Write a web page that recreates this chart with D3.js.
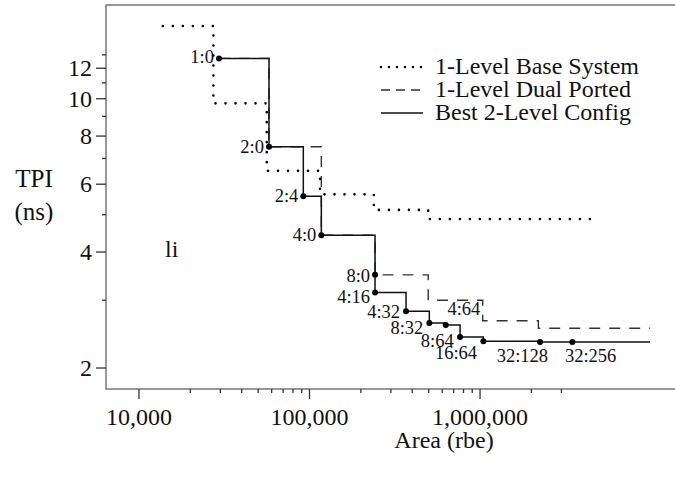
<!DOCTYPE html>
<html><head><meta charset="utf-8">
<script src="https://cdn.jsdelivr.net/npm/d3@7"></script>
<style>
html,body{margin:0;padding:0;background:#fff;}
text{font-family:"Liberation Serif","Times New Roman",serif;fill:#111;}
</style></head>
<body><svg id="c" width="675" height="484"></svg>
<script>
// ---- data ----
const seriesNames = ["1-Level Base System", "1-Level Dual Ported", "Best 2-Level Config"];
const baseArea = [13900, 27500, 56500, 116000, 240000, 500000, 4760000];
const baseTPI  = [15.4, 9.70, 6.48, 5.63, 5.13, 4.86, 4.86];
const dualArea = [29650, 58270, 118100, 243900, 500000, 1044000, 2213000, 10000000];
const dualTPI  = [12.69, 7.48, 4.41, 3.48, 2.99, 2.645, 2.53, 2.53];
const bestArea = [29650, 58270, 92600, 118100, 243900, 243900, 370600, 507600, 633700, 768500, 1053000, 2264000, 3501000, 10000000];
const bestTPI  = [12.69, 7.48, 5.57, 4.41, 3.48, 3.13, 2.80, 2.61, 2.58, 2.40, 2.34, 2.33, 2.33, 2.33];
const bestLabels = ["1:0","2:0","2:4","4:0","8:0","4:16","4:32","8:32","8:64","16:64","4:64","32:128","32:256"];
const xMajorTicks = [1e4, 1e5, 1e6];
const xTickLabels = ["10,000", "100,000", "1,000,000"];
const xMinorTicks = [2e4,3e4,4e4,5e4,6e4,7e4,8e4,9e4,2e5,3e5,4e5,5e5,6e5,7e5,8e5,9e5,2e6,3e6];
const yMajorTicks = [2, 4, 6, 8, 10, 12];
const yMinorTicks = [3, 5, 7, 9, 11, 13];

// label placement offsets (px, relative to each point; text anchored at its end)
const labelDx = [-5, -5, -5, -5, -5, -5, -6, -6, 8, 17, -3, 8, 44];
const labelDy = [5, 6, 6, 6, 7, 10, 7, 11, 22, 22, -26, 20, 20];

// ---- layout ----
const svg = d3.select("#c");
const L = 106, R = 675, T = 5, B = 389;
const x = d3.scaleLog().domain([6450, 1.4e7]).range([L, R]);
const y = d3.scaleLog().domain([1.759, 17.46]).range([B, T]);
const axisColor = "#777";

// frame (left, bottom, top)
svg.append("path").attr("d", `M${R},${T}H${L}V${B}H${R}`)
  .attr("fill","none").attr("stroke",axisColor).attr("stroke-width",1.5);

// axes
function styleAxis(g){ g.select(".domain").remove(); g.selectAll(".tick line").attr("stroke","#333").attr("stroke-width",1.3); }
svg.append("g").attr("transform",`translate(0,${B})`)
  .call(d3.axisBottom(x).tickValues(xMajorTicks).tickSize(10).tickFormat((d,i)=>xTickLabels[i]))
  .call(styleAxis)
  .call(g=>g.selectAll("text").attr("font-size",24).attr("font-family","Liberation Serif").attr("fill","#111").attr("dy",0).attr("y",36));
svg.append("g").attr("transform",`translate(0,${B})`)
  .call(d3.axisBottom(x).tickValues(xMinorTicks).tickSize(4).tickFormat(""))
  .call(styleAxis);
svg.append("g").attr("transform",`translate(${L},0)`)
  .call(d3.axisLeft(y).tickValues(yMajorTicks).tickSize(10).tickFormat(d3.format("d")))
  .call(styleAxis)
  .call(g=>g.selectAll("text").attr("font-size",24).attr("font-family","Liberation Serif").attr("fill","#111").attr("x",-14).attr("dy","0.33em"));
svg.append("g").attr("transform",`translate(${L},0)`)
  .call(d3.axisLeft(y).tickValues(yMinorTicks).tickSize(4).tickFormat(""))
  .call(styleAxis);

// axis titles
svg.append("text").attr("x",34).attr("y",187).attr("text-anchor","middle").attr("font-size",25).text("TPI");
svg.append("text").attr("x",34).attr("y",220).attr("text-anchor","middle").attr("font-size",25).text("(ns)");
svg.append("text").attr("x",444).attr("y",448).attr("text-anchor","middle").attr("font-size",24).text("Area (rbe)");
svg.append("text").attr("x",165).attr("y",257).attr("font-size",24).text("li");

// lines
const line = d3.line().x(d=>x(d[0])).y(d=>y(d[1])).curve(d3.curveStepAfter);
const base = baseArea.map((a,i)=>[a, baseTPI[i]]);
const dual = dualArea.map((a,i)=>[a, dualTPI[i]]);
const best = bestArea.map((a,i)=>[a, bestTPI[i]]);

svg.append("path").datum(dual).attr("d",line).attr("fill","none")
  .attr("stroke","#333").attr("stroke-width",1.4).attr("stroke-dasharray","11 9");
svg.append("path").datum(base).attr("d",line).attr("fill","none")
  .attr("stroke","#000").attr("stroke-width",2.6).attr("stroke-linecap","round").attr("stroke-dasharray","0 10");
svg.append("path").datum(best).attr("d",line).attr("fill","none")
  .attr("stroke","#111").attr("stroke-width",1.5);

// markers & labels on best config
const pts = best.slice(0, bestLabels.length);
svg.selectAll("circle.pt").data(pts).enter().append("circle")
  .attr("cx",d=>x(d[0])).attr("cy",d=>y(d[1])).attr("r",3).attr("fill","#000");
svg.selectAll("text.lbl").data(pts).enter().append("text")
  .attr("x",(d,i)=>x(d[0])+labelDx[i]).attr("y",(d,i)=>y(d[1])+labelDy[i])
  .attr("text-anchor","end").attr("font-size",18.5).text((d,i)=>bestLabels[i]);

// legend
const lg = svg.append("g");
const legY = [74, 97, 120];
const legStyles = [
  {w:2.6, dash:"0 8", cap:"round", c:"#000"},
  {w:1.4, dash:"9 6", cap:"butt", c:"#333"},
  {w:1.5, dash:null, cap:"butt", c:"#111"}
];
seriesNames.forEach((n,i)=>{
  const s = legStyles[i];
  lg.append("line").attr("x1",381).attr("x2",423).attr("y1",legY[i]-7).attr("y2",legY[i]-7)
    .attr("stroke",s.c).attr("stroke-width",s.w).attr("stroke-linecap",s.cap)
    .attr("stroke-dasharray",s.dash);
  lg.append("text").attr("x",435).attr("y",legY[i]).attr("font-size",24).text(n);
});
</script></body></html>
